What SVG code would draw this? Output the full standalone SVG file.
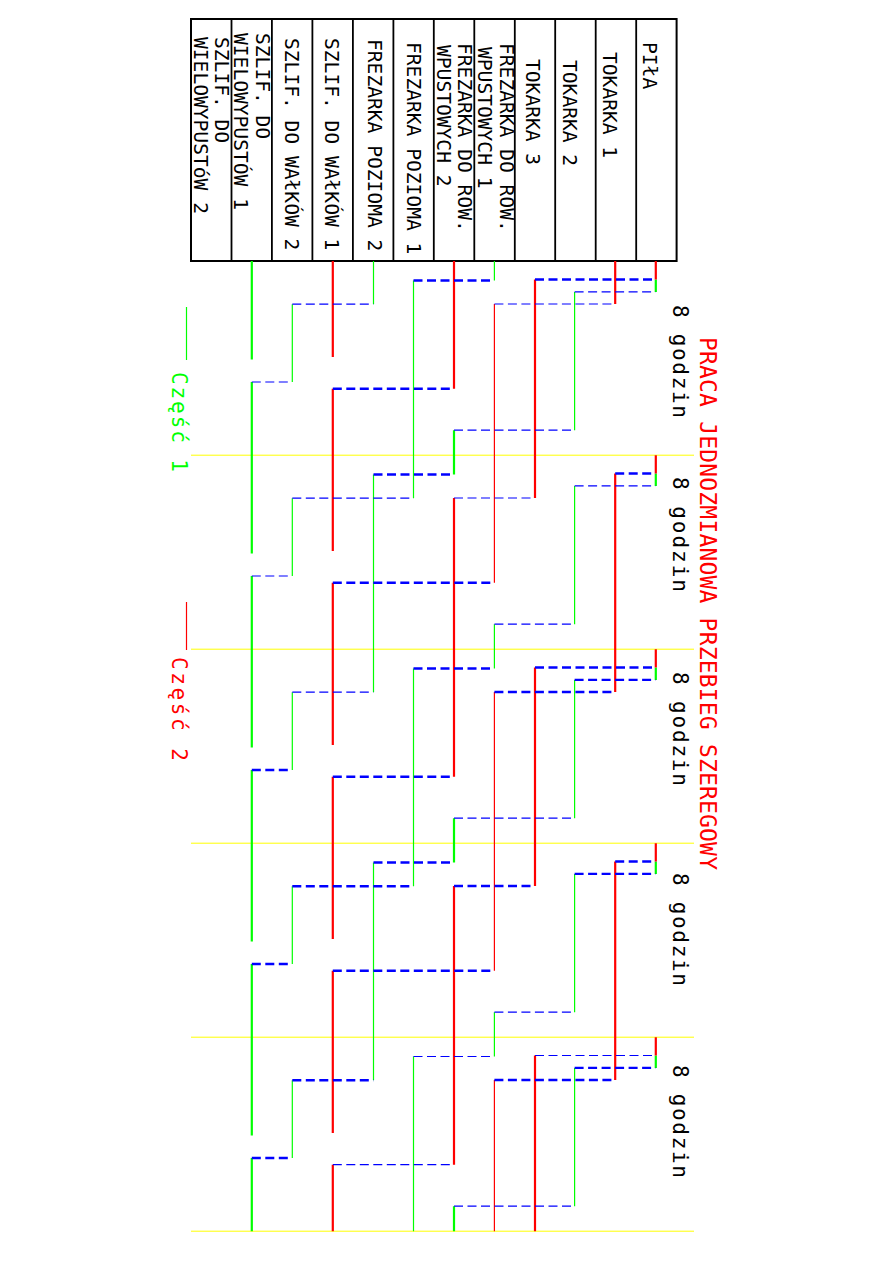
<svg xmlns="http://www.w3.org/2000/svg" width="893" height="1263" viewBox="0 0 893 1263">
<style>
.hdr{font-family:"DejaVu Sans Mono","Liberation Mono",monospace;font-size:19.6px;fill:#000}
.lbl{font-family:"DejaVu Sans Mono","Liberation Mono",monospace;font-size:21px;fill:#000}
.ttl{font-family:"DejaVu Sans Mono","Liberation Mono",monospace;font-size:23px;fill:#ff0000}
.leg{font-family:"DejaVu Sans Mono","Liberation Mono",monospace;font-size:21px}
.grid{stroke:#ffff00;stroke-width:1;fill:none}
.gk{stroke:#00ff00;stroke-width:2.2;fill:none}
.gn{stroke:#00ff00;stroke-width:1.2;fill:none}
.rk{stroke:#ff0000;stroke-width:2.2;fill:none}
.rn{stroke:#ff0000;stroke-width:1.2;fill:none}
.bk{stroke:#0000ff;stroke-width:2.4;fill:none;stroke-dasharray:9 4.5}
.bn{stroke:#0000ff;stroke-width:1.2;fill:none;stroke-dasharray:9 4.5}
.div{stroke:#000;stroke-width:1.8;fill:none}
</style>
<rect width="893" height="1263" fill="#fff"/>
<g id="grid">
<path class="grid" d="M191 455.2H694 M191 649.2H694 M191 843.2H694 M191 1037.2H694 M191 1231.2H694"/>
</g>
<g id="table">
<rect x="191" y="19" width="485.6" height="242" fill="none" stroke="#000" stroke-width="2"/>
<path class="div" d="M231.5 19V261 M271.9 19V261 M312.4 19V261 M352.9 19V261 M393.4 19V261 M433.8 19V261 M474.3 19V261 M514.8 19V261 M555.2 19V261 M595.7 19V261 M636.2 19V261"/>
</g>
<g id="m-pila"><text class="hdr" transform="translate(643,42) rotate(90)">PIłA</text></g>
<g id="m-tokarka1"><text class="hdr" transform="translate(603,52) rotate(90)">TOKARKA 1</text></g>
<g id="m-tokarka2"><text class="hdr" transform="translate(563,60) rotate(90)">TOKARKA 2</text></g>
<g id="m-tokarka3"><text class="hdr" transform="translate(526,59) rotate(90)">TOKARKA 3</text></g>
<g id="m-frez-row1"><text class="hdr" transform="translate(500,43) rotate(90)">FREZARKA DO ROW.</text><text class="hdr" transform="translate(478,47) rotate(90)">WPUSTOWYCH 1</text></g>
<g id="m-frez-row2"><text class="hdr" transform="translate(458,43) rotate(90)">FREZARKA DO ROW.</text><text class="hdr" transform="translate(437,45) rotate(90)">WPUSTOWYCH 2</text></g>
<g id="m-frez-poz1"><text class="hdr" transform="translate(407,42) rotate(90)">FREZARKA POZIOMA 1</text></g>
<g id="m-frez-poz2"><text class="hdr" transform="translate(368,39) rotate(90)">FREZARKA POZIOMA 2</text></g>
<g id="m-szlif-wal1"><text class="hdr" transform="translate(325,38) rotate(90)">SZLIF. DO WAłKÓW 1</text></g>
<g id="m-szlif-wal2"><text class="hdr" transform="translate(285,38) rotate(90)">SZLIF. DO WAłKÓW 2</text></g>
<g id="m-szlif-wiel1"><text class="hdr" transform="translate(256,33) rotate(90)">SZLIF. DO</text><text class="hdr" transform="translate(234,33) rotate(90)">WIELOWYPUSTÓW 1</text></g>
<g id="m-szlif-wiel2"><text class="hdr" transform="translate(215,37) rotate(90)">SZLIF. DO</text><text class="hdr" transform="translate(194,37) rotate(90)">WIELOWYPUSTóW 2</text></g>
<g id="title"><text class="ttl" transform="translate(700,337) rotate(90)" textLength="533" lengthAdjust="spacing">PRACA JEDNOZMIANOWA PRZEBIEG SZEREGOWY</text></g>
<g id="shift-labels">
<text class="lbl" transform="translate(673,305) rotate(90)" textLength="113" lengthAdjust="spacing">8 godzin</text>
<text class="lbl" transform="translate(673,477) rotate(90)" textLength="115" lengthAdjust="spacing">8 godzin</text>
<text class="lbl" transform="translate(673,672) rotate(90)" textLength="114" lengthAdjust="spacing">8 godzin</text>
<text class="lbl" transform="translate(673,873) rotate(90)" textLength="113" lengthAdjust="spacing">8 godzin</text>
<text class="lbl" transform="translate(673,1065) rotate(90)" textLength="113" lengthAdjust="spacing">8 godzin</text>
</g>
<g id="legend-part1">
<path d="M186.5 307V360" stroke="#00ff00" stroke-width="1.2"/>
<text class="leg" fill="#00ff00" transform="translate(172,372) rotate(90)" textLength="100" lengthAdjust="spacing">Część 1</text>
</g>
<g id="legend-part2">
<path d="M186.5 602V650" stroke="#ff0000" stroke-width="1.2"/>
<text class="leg" fill="#ff0000" transform="translate(172,657) rotate(90)" textLength="104" lengthAdjust="spacing">Część 2</text>
</g>
<g id="connectors">
<path class="gk" d="M655.8 279.5V291.9 M655.8 473.5V485.9 M655.8 667.5V679.9 M655.8 861.5V873.9 M655.8 1055.5V1067.9 M454 430.2V474.5 M454 818.2V862.5 M454 1206.2V1231.2 M251.8 261V359.5 M251.8 382V553.5 M251.8 576V747.5 M251.8 770V941.5 M251.8 964V1135.5 M251.8 1158V1231.2"/>
<path class="gn" d="M574.6 291.9V430.2 M574.6 485.9V624.2 M574.6 679.9V818.2 M574.6 873.9V1012.2 M574.6 1067.9V1206.2 M494.4 261V280.5 M494.4 624.2V668.5 M494.4 1012.2V1056.5 M413.5 280.5V498.2 M413.5 668.5V886.2 M413.5 1056.5V1231.2 M373.5 261V304.2 M373.5 474.5V692.2 M373.5 862.5V1080.2 M292.3 304.2V382 M292.3 498.2V576 M292.3 692.2V770 M292.3 886.2V964 M292.3 1080.2V1158"/>
<path class="rk" d="M655.8 261V279.5 M655.8 455.2V473.5 M655.8 649.2V667.5 M655.8 843.2V861.5 M655.8 1037.2V1055.5 M615.2 261V304 M615.2 473.5V692 M615.2 861.5V1080 M535 279.5V498 M535 667.5V886 M535 1055.5V1231.2 M454 261V388.7 M454 498V776.7 M454 886V1164.7 M332.8 261V356.9 M332.8 388.7V550.9 M332.8 582.7V744.9 M332.8 776.7V938.9 M332.8 970.7V1132.9 M332.8 1164.7V1231.2"/>
<path class="rn" d="M494.4 304V582.7 M494.4 692V970.7 M494.4 1080V1231.2"/>
<path class="bk" d="M535 279.5H655.8 M332.8 388.7H454 M413.5 280.5H494.4 M615.2 473.5H655.8 M332.8 582.7H494.4 M373.5 474.5H454 M535 667.5H655.8 M574.6 679.9H655.8 M494.4 692H615.2 M332.8 776.7H454 M413.5 668.5H494.4 M251.8 770H292.3 M615.2 861.5H655.8 M574.6 873.9H655.8 M454 886H535 M332.8 970.7H494.4 M373.5 862.5H454 M292.3 886.2H413.5 M251.8 964H292.3 M574.6 1067.9H655.8 M494.4 1080H615.2 M292.3 1080.2H373.5 M251.8 1158H292.3"/>
<path class="bn" d="M574.6 291.9H655.8 M494.4 304H615.2 M454 430.2H574.6 M292.3 304.2H373.5 M251.8 382H292.3 M574.6 485.9H655.8 M494.4 624.2H574.6 M454 498H535 M292.3 498.2H413.5 M251.8 576H292.3 M454 818.2H574.6 M292.3 692.2H373.5 M494.4 1012.2H574.6 M535 1055.5H655.8 M454 1206.2H574.6 M332.8 1164.7H454 M413.5 1056.5H494.4"/>
</g>
</svg>
